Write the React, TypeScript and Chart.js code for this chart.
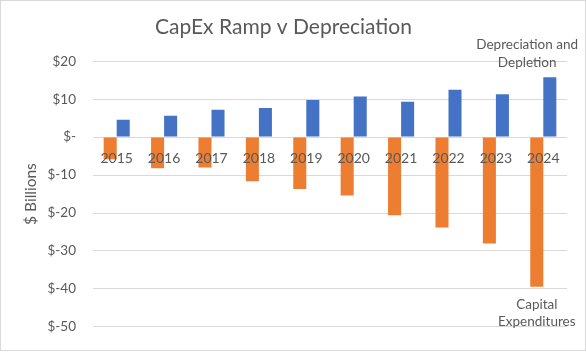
import React, { useEffect, useRef } from 'react';
import { Chart, registerables } from 'chart.js';

Chart.register(...registerables);

const years = ['2015', '2016', '2017', '2018', '2019', '2020', '2021', '2022', '2023', '2024'];
const capitalExpenditures = [-5.8, -8.2, -8.0, -11.6, -13.7, -15.4, -20.6, -23.8, -28.0, -39.4];
const depreciationDepletion = [4.6, 5.6, 7.2, 7.7, 9.8, 10.7, 9.3, 12.5, 11.3, 15.8];
const capexLabelLines = ['Capital', 'Expenditures'];
const ddLabelLines = ['Depreciation and', 'Depletion'];
const chartTitle = 'CapEx Ramp v Depreciation';
const yAxisTitle = '$ Billions';

const FONT = 'Lato';
const GREY = '#595959';

const borderPlugin = {
  id: 'outerBorder',
  beforeDraw(chart: any) {
    const ctx = chart.ctx;
    ctx.save();
    ctx.fillStyle = '#ffffff';
    ctx.fillRect(0, 0, chart.width, chart.height);
    ctx.strokeStyle = '#d9d9d9';
    ctx.lineWidth = 1;
    ctx.strokeRect(0.5, 0.5, chart.width - 1, chart.height - 2);
    ctx.restore();
  },
};

const lastLabelPlugin = {
  id: 'lastLabels',
  afterDatasetsDraw(chart: any) {
    const ctx = chart.ctx;
    ctx.save();
    ctx.font = `13.5px ${FONT}`;
    ctx.fillStyle = GREY;
    ctx.textAlign = 'center';
    ctx.textBaseline = 'middle';
    const lineH = 17.7;
    chart.data.datasets.forEach((ds: any, i: number) => {
      const meta = chart.getDatasetMeta(i);
      const idx = meta.data.length - 1;
      const el = meta.data[idx];
      const lines: string[] = ds.labelLines;
      const half = Math.max(...lines.map((l) => ctx.measureText(l).width)) / 2;
      const x = Math.min(el.x, chart.width - 8 - half);
      const v = ds.data[idx];
      if (v >= 0) {
        lines.forEach((l, k) => {
          ctx.fillText(l, x, el.y - 15 - (lines.length - 1 - k) * lineH);
        });
      } else {
        lines.forEach((l, k) => {
          ctx.fillText(l, x, el.y + 17.7 + k * lineH);
        });
      }
    });
    ctx.restore();
  },
};

export default function App() {
  const ref = useRef<HTMLCanvasElement>(null);
  useEffect(() => {
    if (!ref.current) return;
    const chart = new Chart(ref.current, {
      type: 'bar',
      data: {
        labels: years,
        datasets: [
          {
            label: 'Capital Expenditures',
            data: capitalExpenditures,
            backgroundColor: '#ED7D31',
            borderWidth: 0,
            categoryPercentage: 0.55,
            barPercentage: 1,
            labelLines: capexLabelLines,
          } as any,
          {
            label: 'Depreciation and Depletion',
            data: depreciationDepletion,
            backgroundColor: '#4472C4',
            borderWidth: 0,
            categoryPercentage: 0.55,
            barPercentage: 1,
            labelLines: ddLabelLines,
          } as any,
        ],
      },
      options: {
        responsive: false,
        animation: false,
        layout: { padding: { left: 0, right: 19, top: 0, bottom: 19 } },
        plugins: {
          legend: { display: false },
          tooltip: { enabled: false },
          title: {
            display: true,
            text: chartTitle,
            color: GREY,
            font: { family: FONT, size: 21, weight: 'normal' },
            padding: { top: 15, bottom: 21 },
          },
        },
        scales: {
          x: {
            axis: 'x',
            position: { y: 0 } as any,
            grid: { display: false },
            border: { display: false },
            ticks: {
              z: 1,
              color: GREY,
              font: { family: FONT, size: 14 },
              padding: 5,
            },
          },
          y: {
            min: -50,
            max: 20,
            grid: { color: '#d9d9d9', drawTicks: false },
            border: { display: false },
            ticks: {
              stepSize: 10,
              color: GREY,
              font: { family: FONT, size: 13.5 },
              padding: 17,
              callback: (v: any) => (v === 0 ? '$-' : `$${v}`),
            },
            title: {
              display: true,
              text: yAxisTitle,
              color: GREY,
              font: { family: FONT, size: 15.5 },
              padding: { top: 22, bottom: 0 },
            },
            afterFit: (s: any) => {
              s.width = 93;
            },
          },
        },
      } as any,
      plugins: [borderPlugin, lastLabelPlugin],
    });
    return () => chart.destroy();
  }, []);
  return (
    <div style={{ position: 'absolute', left: 0, top: 0, width: 586, height: 352 }}>
      <canvas ref={ref} width={586} height={352} style={{ display: 'block' }} />
    </div>
  );
}
